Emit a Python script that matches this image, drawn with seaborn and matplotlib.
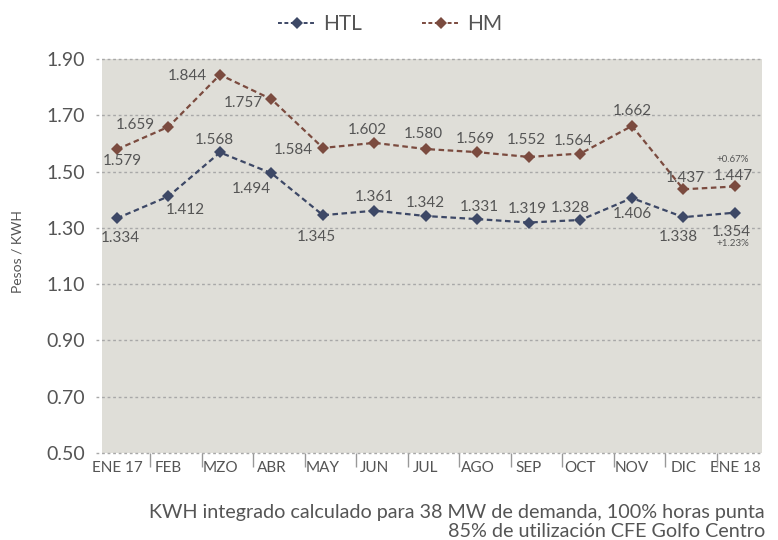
import matplotlib
matplotlib.use("Agg")
import matplotlib.pyplot as plt
import seaborn as sns
import pandas as pd
import numpy as np
from matplotlib.lines import Line2D

months = ["ENE 17", "FEB", "MZO", "ABR", "MAY", "JUN", "JUL", "AGO", "SEP", "OCT", "NOV", "DIC", "ENE 18"]
htl = [1.334, 1.412, 1.568, 1.494, 1.345, 1.361, 1.342, 1.331, 1.319, 1.328, 1.406, 1.338, 1.354]
hm = [1.579, 1.659, 1.844, 1.757, 1.584, 1.602, 1.580, 1.569, 1.552, 1.564, 1.662, 1.437, 1.447]
y_ticks = [0.50, 0.70, 0.90, 1.10, 1.30, 1.50, 1.70, 1.90]
caption = "KWH integrado calculado para 38 MW de demanda, 100% horas punta\n85% de utilización CFE Golfo Centro"
htl_change = "+1.23%"
hm_change = "+0.67%"

# label offsets (pixels) for each point
htl_off = [(3, -20), (17, -14), (-6, 12), (-20, -16), (-7, -22), (0, 14), (-1, 13), (2, 12),
           (-2, 14), (-10, 12), (0, -16), (-5, -20), (-4, -19)]
hm_off = [(5, -12), (-33, 2), (-33, -1), (-28, -4), (-30, -2), (-7, 13), (-3, 15), (-2, 13),
          (-3, 17), (-7, 13), (0, 15), (2, 11), (-2, 10)]

sns.set_theme(style="white")
plt.rcParams['font.family'] = ['Lato', 'DejaVu Sans']

C_HTL = "#3d4866"
C_HM = "#7b4b3f"
TXT = "#555555"
BG = "#dfded8"

df = pd.DataFrame({"x": list(range(len(months))) * 2,
                   "value": htl + hm,
                   "serie": ["HTL"] * len(months) + ["HM"] * len(months)})

fig = plt.figure(figsize=(7.78, 5.4), dpi=100)
ax = fig.add_axes([101.7 / 778, 87 / 540, 660 / 778, 394 / 540])
ax.set_facecolor(BG)

sns.lineplot(data=df, x="x", y="value", hue="serie", palette={"HTL": C_HTL, "HM": C_HM},
             marker="D", markersize=6.5, markeredgewidth=0, linewidth=1.6, ax=ax, legend=False)
for line in ax.get_lines():
    line.set_linestyle((0, (2.5, 1.6)))

ax.set_xlim(-0.297, 12.52)
ax.set_ylim(0.5, 1.9)
for s in ax.spines.values():
    s.set_visible(False)

for y in y_ticks:
    ax.axhline(y, xmin=-0.009, xmax=1, color="#a8a8a8", lw=1.0, ls=(0, (2, 2)), clip_on=False, zorder=1)

ax.set_yticks(y_ticks)
ax.set_yticklabels([f"{v:.2f}" for v in y_ticks], fontsize=14, color=TXT)
ax.tick_params(axis="y", length=0, pad=12)

ax.set_xticks(range(len(months)))
ax.set_xticklabels(months, fontsize=11, color=TXT)
ax.set_xticks([i + 0.65 for i in range(len(months) - 1)], minor=True)
ax.tick_params(axis="x", which="major", length=0, pad=6)
ax.tick_params(axis="x", which="minor", length=10, width=1, color="#999999", direction="out", bottom=True)
ax.set_xlabel("")
ax.set_ylabel("")

for i, v in enumerate(htl):
    ax.annotate(f"{v:.3f}", (i, v), xytext=htl_off[i], textcoords="offset pixels",
                ha="center", va="center", fontsize=11, color=TXT)
for i, v in enumerate(hm):
    ax.annotate(f"{v:.3f}", (i, v), xytext=hm_off[i], textcoords="offset pixels",
                ha="center", va="center", fontsize=11, color=TXT)

n = len(months) - 1
ax.annotate(htl_change, (n, htl[n]), xytext=(-2, -31), textcoords="offset pixels",
            ha="center", va="center", fontsize=7, color=TXT)
ax.annotate(hm_change, (n, hm[n]), xytext=(-2, 27), textcoords="offset pixels",
            ha="center", va="center", fontsize=7, color=TXT)

fig.text(18 / 778, 1 - 252 / 540, "Pesos / KWH", rotation=90, ha="center", va="center",
         fontsize=10, color=TXT)

handles = [Line2D([], [], color=C_HTL, marker="D", markersize=6.5, markeredgewidth=0, lw=1.4,
                  ls=(0, (2, 1.3))),
           Line2D([], [], color=C_HM, marker="D", markersize=6.5, markeredgewidth=0, lw=1.4,
                  ls=(0, (2, 1.3)))]
fig.legend(handles, ["HTL", "HM"], loc="center", bbox_to_anchor=(390 / 778, 1 - 24 / 540),
           ncol=2, frameon=False, fontsize=15, handlelength=1.8, columnspacing=2.9,
           handletextpad=0.35, labelcolor=TXT)

fig.text(765 / 778, 1 - 522 / 540, caption, ha="right", va="center", fontsize=14.2,
         color=TXT, linespacing=1.18)

fig.savefig("out.png", dpi=100)
